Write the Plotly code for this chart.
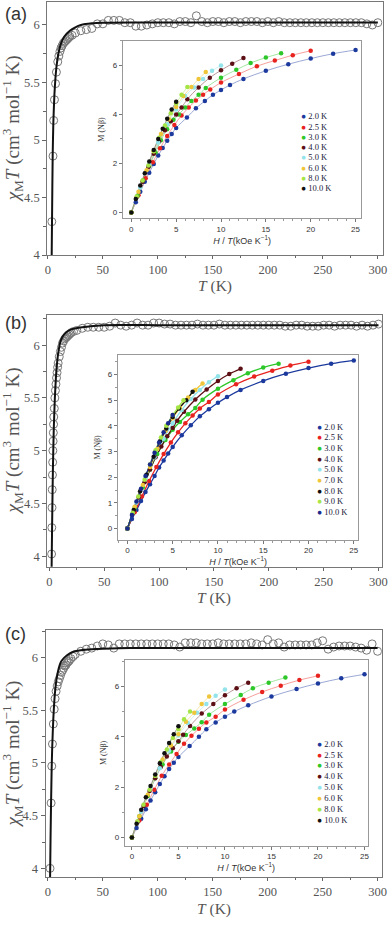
import plotly.graph_objects as go

W, H = 392, 925

# ---------------- panel (a): chi_M T vs T ----------------
a_T = [3.6, 4.7, 5.3, 6.0, 7.0, 7.8, 9.0, 10.0, 11.0, 12.0, 13.0, 14.0, 15.0, 16.0, 17.0,
       18.0, 19.0, 20.0, 22.0, 25.0, 30.0, 35.0, 40.0, 45.0, 50.0, 55.0, 60.0, 65.0, 70.0,
       75.0, 80.0, 85.0, 90.0, 95.0, 100.0, 105.0, 110.0, 115.0, 120.0, 125.0, 130.0, 135.0,
       140.0, 145.0, 150.0, 155.0, 160.0, 165.0, 170.0, 175.0, 180.0, 185.0, 190.0, 195.0,
       200.0, 205.0, 210.0, 215.0, 220.0, 225.0, 230.0, 235.0, 240.0, 245.0, 250.0, 255.0,
       260.0, 265.0, 270.0, 275.0, 280.0, 285.0, 290.0, 295.0, 300.0]
a_chiT = [4.29, 4.86, 5.17, 5.35, 5.49, 5.59, 5.68, 5.73, 5.77, 5.80, 5.82, 5.84, 5.85, 5.86, 5.87,
          5.88, 5.89, 5.90, 5.91, 5.93, 5.95, 5.96, 5.97, 6.01, 6.01, 6.04, 6.04, 6.04, 6.02,
          6.02, 5.99, 5.99, 6.00, 6.01, 6.02, 6.02, 6.02, 6.01, 6.03, 6.03, 6.02, 6.08,
          6.03, 6.02, 6.03, 6.03, 6.02, 6.03, 6.03, 6.02, 6.03, 6.03, 6.03, 6.02,
          6.03, 6.02, 6.03, 6.02, 6.02, 6.02, 6.02, 6.02, 6.02, 6.02, 6.02, 6.02,
          6.02, 6.02, 6.02, 6.02, 6.02, 6.02, 6.01, 6.00, 6.02]
a_fit_T = [3.5, 3.8, 4.4, 5.0, 6.0, 7.0, 8.0, 10.0, 12.0, 15.0, 20.0, 25.0, 30.0, 40.0, 50.0, 75.0, 300.0]
a_fit = [4.0, 4.3, 4.86, 5.15, 5.4, 5.55, 5.65, 5.77, 5.84, 5.9, 5.95, 5.98, 6.0, 6.015, 6.02, 6.022, 6.022]

# inset (a): M (N beta) vs H/T, pairs (H/T, M)
a_labels = ['2.0 K', '2.5 K', '3.0 K', '4.0 K', '5.0 K', '6.0 K', '8.0 K', '10.0 K']
a_colors = ['#1c3a9e', '#e8231f', '#2ec72a', '#5c1015', '#92e3ea', '#efc63a', '#a5e545', '#101010']
a_m20 = [(0, 0), (0.5, 0.42), (1, 0.85), (1.5, 1.25), (2, 1.62), (2.5, 1.98), (3, 2.32), (3.5, 2.63),
         (4, 2.93), (4.5, 3.2), (5, 3.45), (6.2, 3.88), (7.2, 4.25), (8.2, 4.55), (9.1, 4.8), (10, 5.0),
         (11, 5.2), (12.5, 5.45), (15, 5.78), (17.5, 6.05), (20, 6.28), (22.5, 6.48), (25, 6.63)]
a_m25 = [(0, 0), (0.8, 0.7), (1.6, 1.4), (2.4, 2.05), (3.2, 2.62), (4, 3.12), (4.8, 3.57), (5.6, 3.96),
         (6.4, 4.28), (7.2, 4.57), (8, 4.8), (8.8, 5.02), (10, 5.3), (12, 5.65), (14, 5.97), (16, 6.2),
         (18, 6.42), (20, 6.6)]
a_m30 = [(0, 0), (0.7, 0.68), (1.3, 1.3), (2, 1.9), (2.7, 2.45), (3.3, 2.95), (4, 3.4), (4.7, 3.78),
         (5.3, 4.0), (6, 4.28), (6.7, 4.55), (7.5, 4.8), (8.3, 5.08), (10, 5.5), (11.7, 5.82),
         (13.3, 6.1), (15, 6.32), (16.7, 6.5)]
a_m40 = [(0, 0), (0.6, 0.62), (1.25, 1.25), (1.9, 1.85), (2.5, 2.4), (3.1, 2.9), (3.75, 3.35),
         (4.4, 3.72), (5, 4.0), (5.6, 4.28), (6.25, 4.62), (7.5, 5.1), (8.75, 5.5), (10, 5.8),
         (11.25, 6.07), (12.5, 6.3)]
a_m50 = [(0, 0), (1, 1.02), (2, 1.98), (3, 2.85), (4, 3.6), (5, 4.2), (6, 4.75), (7, 5.1),
         (8, 5.45), (9, 5.78), (10, 6.0)]
a_m60 = [(0, 0), (0.8, 0.85), (1.7, 1.72), (2.5, 2.5), (3.3, 3.2), (4.2, 3.8), (5, 4.3),
         (5.8, 4.75), (6.7, 5.12), (7.5, 5.45), (8.3, 5.73)]
a_m80 = [(0, 0), (0.6, 0.65), (1.25, 1.3), (1.9, 1.92), (2.5, 2.5), (3.1, 3.05), (3.75, 3.55),
         (4.4, 4.05), (5, 4.45), (5.6, 4.8), (6.25, 5.12)]
a_m100 = [(0, 0), (0.5, 0.55), (1, 1.1), (1.5, 1.6), (2, 2.08), (2.5, 2.55), (3, 3.0), (3.5, 3.42),
          (4, 3.82), (4.5, 4.2), (5, 4.52)]
a_series = [a_m20, a_m25, a_m30, a_m40, a_m50, a_m60, a_m80, a_m100]

# ---------------- panel (b) ----------------
b_T = [2.0, 2.2, 2.4, 2.6, 2.8, 3.0, 3.2, 3.4, 3.6, 3.8, 4.0, 4.5, 5.0, 5.5, 6.0, 6.5, 7.0, 7.5, 8.0,
       9.0, 10.0, 11.0, 12.0, 13.0, 14.0, 15.0, 16.0, 17.0, 18.0, 19.0, 20.0, 22.0,
       25.0, 30.0, 35.0, 40.0, 45.0, 50.0, 55.0, 60.0, 65.0, 70.0, 75.0, 80.0, 85.0, 90.0, 95.0,
       100.0, 105.0, 110.0, 115.0, 120.0, 125.0, 130.0, 135.0, 140.0, 145.0, 150.0, 155.0, 160.0,
       165.0, 170.0, 175.0, 180.0, 185.0, 190.0, 195.0, 200.0, 205.0, 210.0, 215.0, 220.0, 225.0,
       230.0, 235.0, 240.0, 245.0, 250.0, 255.0, 260.0, 265.0, 270.0, 275.0, 280.0, 285.0, 290.0,
       295.0, 300.0]
b_chiT = [4.02, 4.27, 4.46, 4.63, 4.77, 4.89, 5.0, 5.09, 5.17, 5.25, 5.32, 5.40, 5.50, 5.57, 5.63,
          5.69, 5.74, 5.79, 5.83, 5.89, 5.94, 5.98, 6.02, 6.04, 6.06, 6.07, 6.08, 6.09, 6.10, 6.11,
          6.12, 6.13, 6.14, 6.16, 6.17, 6.17, 6.17, 6.17, 6.18, 6.21, 6.19, 6.18, 6.19, 6.21, 6.19,
          6.19, 6.21, 6.21, 6.20, 6.20, 6.19, 6.19, 6.19, 6.19, 6.20, 6.19, 6.19, 6.19, 6.20, 6.19,
          6.19, 6.19, 6.19, 6.19, 6.19, 6.19, 6.19, 6.19, 6.19, 6.19, 6.18, 6.18, 6.19, 6.19, 6.18,
          6.18, 6.18, 6.19, 6.19, 6.18, 6.19, 6.19, 6.19, 6.18, 6.19, 6.18, 6.19, 6.20]
b_fit_T = [2.0, 2.5, 3.0, 3.5, 4.0, 5.0, 6.0, 7.0, 8.0, 10.0, 12.0, 15.0, 20.0, 30.0, 50.0, 100.0, 300.0]
b_fit = [3.85, 4.3, 4.68, 4.97, 5.2, 5.5, 5.7, 5.83, 5.92, 6.03, 6.08, 6.12, 6.15, 6.17, 6.19, 6.19, 6.19]

b_labels = ['2.0 K', '2.5 K', '3.0 K', '4.0 K', '5.0 K', '7.0 K', '8.0 K', '9.0 K', '10.0 K']
b_colors = ['#1c3a9e', '#e8231f', '#2ec72a', '#5c1015', '#92e3ea', '#efc63a', '#101010', '#a5e545', '#1a2a8c']
b_m20 = [(0, 0), (0.5, 0.37), (1, 0.72), (1.5, 1.07), (2, 1.42), (2.5, 1.73), (3, 2.05), (3.5, 2.38),
         (4, 2.65), (4.5, 2.92), (5, 3.18), (6, 3.63), (7, 4.02), (8, 4.37), (9, 4.65), (10, 4.9),
         (11, 5.12), (12.5, 5.4), (15, 5.75), (17.5, 6.03), (20, 6.25), (22.5, 6.42), (25, 6.55)]
b_m25 = [(0, 0), (0.8, 0.64), (1.6, 1.25), (2.4, 1.85), (3.2, 2.4), (4, 2.9), (4.8, 3.35), (5.6, 3.75),
         (6.4, 4.1), (7.2, 4.4), (8, 4.68), (9, 4.93), (10, 5.22), (12, 5.62), (14, 5.92), (16, 6.15),
         (18, 6.35), (20, 6.5)]
b_m30 = [(0, 0), (0.8, 0.8), (1.7, 1.6), (2.5, 2.3), (3.3, 2.9), (4.2, 3.45), (5, 3.85), (5.8, 4.15),
         (6.7, 4.45), (7.5, 4.7), (8.3, 5.02), (10, 5.45), (11.7, 5.78), (13.3, 6.05), (15, 6.27),
         (16.7, 6.42)]
b_m40 = [(0, 0), (0.6, 0.6), (1.25, 1.22), (1.9, 1.8), (2.5, 2.3), (3.1, 2.78), (3.75, 3.2),
         (4.4, 3.6), (5, 3.92), (5.5, 4.2), (6.25, 4.55), (7.5, 5.03), (8.75, 5.42), (10, 5.75),
         (11.25, 6.02), (12.5, 6.22)]
b_m50 = [(0, 0), (1, 1.02), (2, 1.95), (3, 2.78), (4, 3.5), (5, 4.1), (6, 4.62), (7, 5.05),
         (8, 5.4), (9, 5.7), (10, 5.93)]
b_m70 = [(0, 0), (0.8, 0.85), (1.7, 1.7), (2.5, 2.4), (3.3, 3.1), (4.2, 3.8), (5, 4.3), (5.8, 4.7),
         (6.7, 5.1), (7.5, 5.4), (8.3, 5.65)]
b_m80 = [(0, 0), (0.7, 0.72), (1.4, 1.45), (2.1, 2.1), (2.9, 2.8), (3.6, 3.4), (4.3, 3.9),
         (5, 4.35), (5.7, 4.68), (6.5, 5.0), (7.2, 5.33)]
b_m90 = [(0, 0), (0.6, 0.62), (1.2, 1.25), (1.9, 1.9), (2.5, 2.5), (3.1, 3.05), (3.7, 3.55),
         (4.3, 4.0), (5, 4.42), (5.6, 4.72), (6.2, 5.0)]
b_m100 = [(0, 0), (0.5, 0.53), (1, 1.05), (1.5, 1.55), (2, 2.05), (2.5, 2.5), (3, 2.95), (3.5, 3.35),
          (4, 3.75), (4.5, 4.1), (5, 4.42)]
b_series = [b_m20, b_m25, b_m30, b_m40, b_m50, b_m70, b_m80, b_m90, b_m100]

# ---------------- panel (c) ----------------
c_T = [2.0, 3.0, 3.6, 4.2, 5.0, 5.8, 6.6, 7.5, 8.5, 9.5, 10.5, 11.5, 12.5, 13.5, 14.5, 15.5, 16.5,
       17.5, 18.5, 19.5, 21.0, 23.0, 25.0, 30.0, 35.0, 40.0, 45.0, 50.0, 55.0, 60.0, 65.0, 70.0,
       75.0, 80.0, 85.0, 90.0, 95.0, 100.0, 105.0, 110.0, 115.0, 120.0, 125.0, 130.0, 135.0,
       140.0, 145.0, 150.0, 155.0, 160.0, 165.0, 170.0, 175.0, 180.0, 185.0, 190.0, 195.0,
       200.0, 205.0, 210.0, 215.0, 220.0, 225.0, 230.0, 235.0, 240.0, 245.0, 250.0, 255.0,
       260.0, 265.0, 270.0, 275.0, 280.0, 285.0, 290.0, 295.0, 300.0]
c_chiT = [4.0, 4.62, 4.97, 5.18, 5.37, 5.51, 5.61, 5.68, 5.73, 5.77, 5.80, 5.83, 5.86, 5.88, 5.90,
          5.92, 5.93, 5.95, 5.96, 5.97, 5.99, 6.01, 6.03, 6.06, 6.08, 6.09, 6.11, 6.13, 6.12, 6.09,
          6.13, 6.13, 6.13, 6.13, 6.13, 6.13, 6.13, 6.13, 6.13, 6.13, 6.12, 6.10, 6.14, 6.14, 6.14,
          6.13, 6.13, 6.13, 6.14, 6.13, 6.13, 6.13, 6.13, 6.13, 6.14, 6.13, 6.12,
          6.17, 6.13, 6.14, 6.10, 6.12, 6.12, 6.12, 6.12, 6.12, 6.14, 6.16, 6.08,
          6.10, 6.11, 6.11, 6.11, 6.10, 6.09, 6.07, 6.13, 6.06]
c_fit_T = [2.0, 2.5, 3.0, 3.5, 4.0, 5.0, 6.0, 7.0, 8.0, 10.0, 12.0, 15.0, 20.0, 25.0, 30.0, 40.0, 50.0, 75.0, 300.0]
c_fit = [3.85, 4.3, 4.65, 4.95, 5.15, 5.42, 5.6, 5.72, 5.8, 5.9, 5.96, 6.0, 6.04, 6.06, 6.07, 6.08, 6.085, 6.09, 6.09]

c_labels = a_labels
c_colors = a_colors
c_m20 = [(0, 0), (0.5, 0.38), (1, 0.75), (1.5, 1.12), (2, 1.47), (2.5, 1.8), (3, 2.13), (3.5, 2.43),
         (4, 2.72), (4.5, 2.97), (5, 3.2), (6.2, 3.63), (7.2, 4.0), (8, 4.3), (9, 4.57), (10, 4.8),
         (11, 5.0), (12.5, 5.25), (15, 5.6), (17.7, 5.9), (20, 6.12), (22.5, 6.32), (25, 6.48)]
c_m25 = [(0, 0), (0.8, 0.68), (1.6, 1.3), (2.4, 1.9), (3.2, 2.45), (4, 2.9), (4.8, 3.32), (5.6, 3.72),
         (6.4, 4.04), (7.2, 4.32), (8, 4.57), (9, 4.8), (10, 5.08), (12, 5.47), (14, 5.78), (16, 6.03),
         (18, 6.25), (20, 6.42)]
c_m30 = [(0, 0), (0.8, 0.85), (1.7, 1.65), (2.5, 2.35), (3.3, 2.9), (4.2, 3.42), (5, 3.8), (5.8, 4.07),
         (6.7, 4.33), (7.5, 4.58), (8.3, 4.88), (10, 5.3), (11.7, 5.66), (13, 5.93), (14.7, 6.15),
         (16.5, 6.35)]
c_m40 = [(0, 0), (0.6, 0.62), (1.25, 1.25), (1.9, 1.85), (2.5, 2.35), (3.1, 2.8), (3.75, 3.22),
         (4.4, 3.55), (5, 3.82), (5.5, 4.08), (6.25, 4.43), (7.5, 4.92), (8.75, 5.3), (10, 5.65),
         (11.25, 5.93), (12.5, 6.15)]
c_m50 = [(0, 0), (1, 1.02), (2, 1.95), (3, 2.75), (4, 3.45), (5, 4.05), (6, 4.55), (7, 4.95),
         (8, 5.3), (9, 5.63), (10, 5.88)]
c_m60 = [(0, 0), (0.8, 0.85), (1.7, 1.7), (2.5, 2.45), (3.3, 3.1), (4.2, 3.65), (5, 4.1),
         (5.8, 4.6), (6.7, 4.95), (7.5, 5.3), (8.3, 5.6)]
c_m80 = [(0, 0), (0.6, 0.65), (1.25, 1.3), (1.9, 1.9), (2.5, 2.45), (3.1, 3.0), (3.75, 3.5),
         (4.4, 3.95), (5, 4.3), (5.6, 4.7), (6.25, 5.0)]
c_m100 = [(0, 0), (0.5, 0.55), (1, 1.1), (1.5, 1.6), (2, 2.05), (2.5, 2.5), (3, 2.95), (3.5, 3.35),
          (4, 3.75), (4.5, 4.1), (5, 4.42)]
c_series = [c_m20, c_m25, c_m30, c_m40, c_m50, c_m60, c_m80, c_m100]

SERIF = 'Liberation Serif'
SANS = 'Liberation Sans'


def px(x0, x1, y0, y1):
    # pixel box -> paper domains
    return [x0 / W, x1 / W], [1 - y1 / H, 1 - y0 / H]


def lighten(hex_color, f):
    h = hex_color.lstrip('#')
    r, g, b = (int(h[i:i + 2], 16) for i in (0, 2, 4))
    r, g, b = (int(v + (255 - v) * f) for v in (r, g, b))
    return f'rgb({r},{g},{b})'


fig = go.Figure()
layout = dict(width=W, height=H, margin=dict(l=0, r=0, t=0, b=0), autosize=False,
              paper_bgcolor='white', plot_bgcolor='rgba(0,0,0,0)', showlegend=False,
              annotations=[])

panels = [
    dict(label='(a)', lab_y=14, box=(46, 387.5, 2, 257), xr=[-0.6, 304.3], yr=[4.0, 6.2],
         ibox=(123, 366, 41, 220), ixr=[-0.95, 25.66], iyr=[-0.24, 7.01], idt=2,
         T=a_T, chi=a_chiT, fT=a_fit_T, f=a_fit, series=a_series, labels=a_labels, colors=a_colors,
         light=True, leg=(305, 117.3, 10.3), xt_y=288),
    dict(label='(b)', lab_y=325, box=(46, 386.7, 317, 571), xr=[-2.0, 303.0], yr=[3.9, 6.29],
         ibox=(118, 362.7, 357.7, 544), ixr=[-1.05, 25.49], iyr=[-0.44, 6.76], idt=1,
         T=b_T, chi=b_chiT, fT=b_fit_T, f=b_fit, series=b_series, labels=b_labels, colors=b_colors,
         light=False, leg=(321.7, 430, 10.75), xt_y=603),
    dict(label='(c)', lab_y=639, box=(44.3, 386.7, 635, 884), xr=[-2.1, 303.8], yr=[3.915, 6.26],
         ibox=(125, 372.3, 665, 852.3), ixr=[-0.77, 25.34], iyr=[-0.33, 7.05], idt=2,
         T=c_T, chi=c_chiT, fT=c_fit_T, f=c_fit, series=c_series, labels=c_labels, colors=c_colors,
         light=True, leg=(321.7, 749.3, 11.0), xt_y=915.5),
]

for k, p in enumerate(panels):
    mi = 2 * k + 1
    ii = 2 * k + 2
    mx, my = ('x' if mi == 1 else f'x{mi}'), ('y' if mi == 1 else f'y{mi}')
    ix, iy = f'x{ii}', f'y{ii}'

    xd, yd = px(*p['box'])
    layout['xaxis' if mi == 1 else f'xaxis{mi}'] = dict(
        domain=xd, range=p['xr'], anchor=my, tickvals=list(range(0, 301, 50)),
        ticks='outside', ticklen=3, tickcolor='#666',
        minor=dict(dtick=25, tick0=0, ticks='outside', ticklen=2, tickcolor='#666'),
        showline=True, mirror=True, linecolor='#777', linewidth=1,
        showgrid=False, zeroline=False,
        tickfont=dict(family=SERIF, size=12.5, color='#555'))
    layout['yaxis' if mi == 1 else f'yaxis{mi}'] = dict(
        domain=yd, range=p['yr'], anchor=mx, tickvals=[4, 4.5, 5, 5.5, 6],
        ticks='outside', ticklen=4, tickcolor='#666',
        minor=dict(dtick=0.25, tick0=0, ticks='outside', ticklen=3, tickcolor='#666'),
        showline=True, mirror=True, linecolor='#777', linewidth=1,
        showgrid=False, zeroline=False,
        tickfont=dict(family=SERIF, size=12.5, color='#555'))

    # main axis titles as annotations for exact placement
    x0, x1, y0, y1 = p['box']
    layout['annotations'].append(dict(
        x=(x0 + x1) / 2 / W, y=1 - p['xt_y'] / H, xref='paper', yref='paper',
        xanchor='center', yanchor='middle', showarrow=False, text='<i>T</i> (K)',
        font=dict(family=SERIF, size=15.5, color='#555')))
    layout['annotations'].append(dict(
        x=11 / W, y=1 - (y0 + y1) / 2 / H, xref='paper', yref='paper', textangle=-90,
        xanchor='center', yanchor='middle', showarrow=False,
        text='<i>χ</i><sub>M</sub><i>T</i> (cm<sup>3</sup> mol<sup>−1</sup> K)',
        font=dict(family=SERIF, size=19, color='#555')))

    fig.add_trace(go.Scatter(x=p['T'], y=p['chi'], mode='markers', xaxis=mx, yaxis=my,
                             marker=dict(symbol='circle-open', size=8, color='#777',
                                         line=dict(width=1, color='#777'))))
    fig.add_trace(go.Scatter(x=p['fT'], y=p['f'], mode='lines', xaxis=mx, yaxis=my,
                             line=dict(color='#111', width=2, shape='spline', smoothing=0.6)))

    xd, yd = px(*p['ibox'])
    layout[f'xaxis{ii}'] = dict(
        domain=xd, range=p['ixr'], anchor=iy, dtick=5, tick0=0,
        ticks='outside', ticklen=3, tickcolor='#777',
        minor=dict(dtick=1, ticks='outside', ticklen=2, tickcolor='#999'),
        showline=True, mirror=True, linecolor='#999', linewidth=1,
        showgrid=False, zeroline=False,
        tickfont=dict(family=SANS, size=8, color='#333'),
        title=dict(text='<i>H</i> / <i>T</i>(kOe K<sup>−1</sup>)',
                   font=dict(family=SANS, size=9, color='#333'), standoff=3))
    layout[f'yaxis{ii}'] = dict(
        domain=yd, range=p['iyr'], anchor=ix, dtick=p['idt'], tick0=0,
        ticks='outside', ticklen=3, tickcolor='#777',
        minor=dict(dtick=p['idt'] / 2, ticks='outside', ticklen=2, tickcolor='#999'),
        showline=True, mirror=True, linecolor='#999', linewidth=1,
        showgrid=False, zeroline=False,
        tickfont=dict(family=SANS, size=8, color='#333'),
        title=dict(text='M (Nβ)', font=dict(family=SERIF, size=8, color='#333'), standoff=6))

    for pts, col in zip(p['series'], p['colors']):
        hx, m = zip(*pts)
        lc = lighten(col, 0.45) if p['light'] else col
        fig.add_trace(go.Scatter(x=hx, y=m, mode='lines', xaxis=ix, yaxis=iy,
                                 line=dict(color=lc, width=0.8 if p['light'] else 1.3, shape='spline')))
    for pts, col in zip(p['series'], p['colors']):
        hx, m = zip(*pts)
        fig.add_trace(go.Scatter(x=hx, y=m, mode='markers', xaxis=ix, yaxis=iy,
                                 marker=dict(size=4.5, color=col)))

    lx, ly, dy = p['leg']
    for j, (lab, col) in enumerate(zip(p['labels'], p['colors'])):
        layout['annotations'].append(dict(
            x=(lx - 3) / W, y=1 - (ly + j * dy) / H, xref='paper', yref='paper',
            xanchor='left', yanchor='middle', showarrow=False,
            text=f"<span style='color:{col}'>●</span> {lab}",
            font=dict(family=SERIF, size=8.5, color='#1a1a3a')))

    layout['annotations'].append(dict(
        x=1 / W, y=1 - p['lab_y'] / H, xref='paper', yref='paper', xanchor='left',
        yanchor='middle', showarrow=False, text=p['label'],
        font=dict(family=SANS, size=18, color='#333')))

fig.update_layout(**layout)
# the page body has a default 8px margin; drop it so the figure sits at the window origin
fig.write_html("out.html", config={'displayModeBar': False},
               post_script="document.body.style.margin='0';")
